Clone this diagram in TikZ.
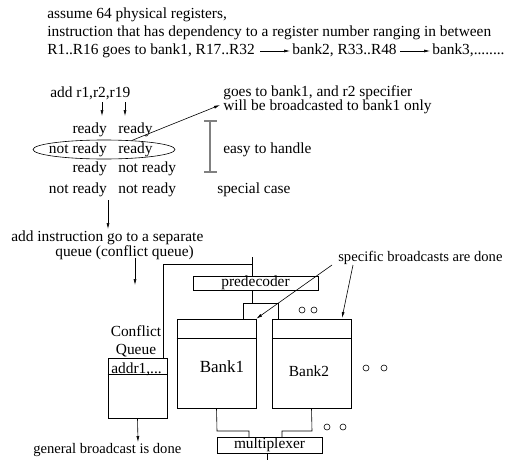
\documentclass[tikz,border=0pt]{standalone}
\usepackage{fontspec}
\setmainfont{Liberation Serif}
\usetikzlibrary{arrows.meta,positioning,calc,shapes.geometric}
\tikzset{
  txt/.style={inner sep=0pt, anchor=base west},
  rtxt/.style={inner sep=0pt, anchor=base east},
  ctxt/.style={inner sep=0pt, anchor=base},
  arr/.style={-{Latex[length=6pt,width=3pt]}},
  unit/.style={draw, inner sep=0pt, minimum width=#1},
  dot/.style={draw, circle, inner sep=0pt, minimum size=6pt},
  small/.style={font=\fontsize{14.6}{16}\selectfont},
}
\begin{document}
\begin{tikzpicture}[x=1pt, y=-1pt, line width=0.6pt, font=\fontsize{15.4}{17}\selectfont]
  \useasboundingbox (0,0) rectangle (505,460);
  % header lines
  \node[txt] (l1) at (47,19) {assume 64 physical registers,};
  \node[txt] (l2) at (47,37) {instruction that has dependency to a register number ranging in between};
  \node[txt] (l3a) at (47,55) {R1..R16 goes to bank1, R17..R32};
  \node[txt] (l3b) at (292,55) {bank2, R33..R48};
  \node[txt] (l3c) at (432,55) {bank3,........};
  \draw[arr] (260,51) -- (290,51);
  \draw[arr] (400,51) -- (430,51);
  % the instruction and its two source operands
  \node[txt] (add) at (50,97) {add r1,r2,r19};
  \coordinate (s1) at (102,102);
  \coordinate (s2) at (125,102);
  \draw[arr] (s1) -- ++(0,14);
  \draw[arr] (s2) -- ++(0,14);
  % ready table, rows 1..4
  \node[rtxt] (a1) at (107,133) {ready};     \node[txt] (b1) at (118,133) {ready};
  \node[rtxt] (a2) at (107,153) {not ready}; \node[txt] (b2) at (118,153) {ready};
  \node[rtxt] (a3) at (107,172) {ready};     \node[txt] (b3) at (118,172) {not ready};
  \node[rtxt] (a4) at (107,193) {not ready}; \node[txt] (b4) at (118,193) {not ready};
  \node[draw, ellipse, inner sep=0pt, minimum width=142pt, minimum height=19pt] (sel) at (104,149.5) {};
  % notes on the right
  \node[txt] (n1) at (223,96) {goes to bank1, and r2 specifier};
  \node[txt] (n2) at (223,110) {will be broadcasted to bank1 only};
  \coordinate (n2in) at (220,105);
  \draw[arr] (sel.18) -- (n2in);
  \draw[gray, line width=1.5pt] (210,121) -- (210,172)
    (204,121) -- (217,121) (204,172) -- (217,172);
  \node[txt] (easy) at (223,153) {easy to handle};
  \node[txt] (spec) at (217,193) {special case};
  % special case goes to the conflict queue
  \node[txt] (q1) at (11,241) {add instruction go to a separate};
  \node[txt] (q2) at (55,256) {queue (conflict queue)};
  \draw[arr] (108,200) -- (108,229);
  \draw[arr] (135,258) -- (135,285);
  \node[ctxt] (cf1) at (136,336) {Conflict};
  \node[ctxt] (cf2) at (136,354) {Queue};
  \node[unit=59pt, minimum height=60pt] (cq) at (137.5,388) {};
  \draw (cq.north west) ++(0,17) -- ++(59,0);
  \node[txt] (addr) at (111,373) {addr1,...};
  \node[txt, small] (gen) at (33,453) {general broadcast is done};
  \draw[arr] (cq.south) -- (138,442);
  % predecoder and banks
  \node[unit=125pt, minimum height=14pt] (pre) at (255.5,283) {predecoder};
  \draw (163,358) |- (252,264);
  \draw (252,257) -- (pre.north -| 252,0);
  \draw (pre.south -| 252,0) -- (252,303);
  \draw (243,319) -- (243,303) -- (278,303) -- (278,319);
  \node[unit=79pt, minimum height=89pt] (bk1) at (216.5,363.5) {};
  \node[unit=79pt, minimum height=89pt] (bk2) at (311.5,363.5) {};
  \draw (bk1.north west) ++(0,20) -- ++(79,0);
  \draw (bk2.north west) ++(0,20) -- ++(79,0);
  \node[ctxt, font=\fontsize{17}{19}\selectfont] (bn1) at (222,372) {Bank1};
  \node[ctxt] (bn2) at (309,376) {Bank2};
  % multiplexer
  \node[unit=105pt, minimum height=16pt] (mux) at (269.5,445) {multiplexer};
  \draw (bk1.south) -- (217,431) -- (249,431) -- (249,437);
  \draw (bk2.south) -- (312,431) -- (282,431) -- (282,437);
  \draw (mux.south -| 267,0) -- (267,460);
  % specific broadcasts
  \node[txt, small] (sb) at (338,261) {specific broadcasts are done};
  \draw[arr] (332,265) -- (bk1.north east);
  \draw[arr] (353,265) -- (342,318);
  % more banks
  \foreach \cx/\cy in {302/310,314/310,366/368,384/368,327/427,343/427}
    \node[dot] at (\cx,\cy) {};
\end{tikzpicture}
\end{document}
